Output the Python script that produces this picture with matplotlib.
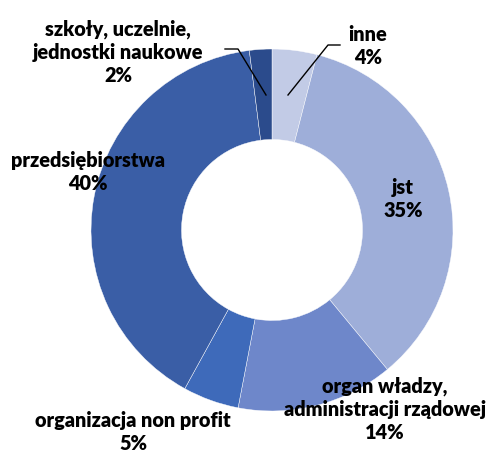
import matplotlib.pyplot as plt

# udział podmiotów (%)
labels = ["inne", "jst", "organ władzy,\nadministracji rządowej", "organizacja non profit",
          "przedsiębiorstwa", "szkoły, uczelnie,\njednostki naukowe"]
values = [4, 35, 14, 5, 40, 2]
colors = ["#c2cbe6", "#9eaed9", "#6e87ca", "#3e6aba", "#3a5ea6", "#2b4b8c"]

H = 455
fig = plt.figure(figsize=(4.87, 4.55), dpi=100)
ax = fig.add_axes([0, 0, 1, 1])

cx, cy, r = 272, H - 230, 181
ax.pie(values, colors=colors, startangle=90, counterclock=False,
       center=(cx, cy), radius=r, frame=True,
       wedgeprops=dict(width=r * 0.5, edgecolor="white", linewidth=0.3))
ax.set_xlim(0, 487)
ax.set_ylim(0, H)
ax.set_aspect("equal")
ax.axis("off")

font = dict(family="Lato", fontweight="heavy", fontsize=14.3, ha="center", va="center",
            linespacing=1.25, color="black")
pos = [(368, 46), (403, 199), (385, 409), (133, 432), (88, 172), (118, 52)]
for lab, v, (x, y) in zip(labels, values, pos):
    ax.text(x, H - y, f"{lab}\n{v}%", **font)

# linie odniesienia dla małych wycinków
ax.plot([288, 328, 340], [H - 95, H - 45, H - 45], color="black", lw=1)
ax.plot([225, 238, 266], [H - 49, H - 49, H - 95], color="black", lw=1)

fig.savefig("out.png", dpi=100)
